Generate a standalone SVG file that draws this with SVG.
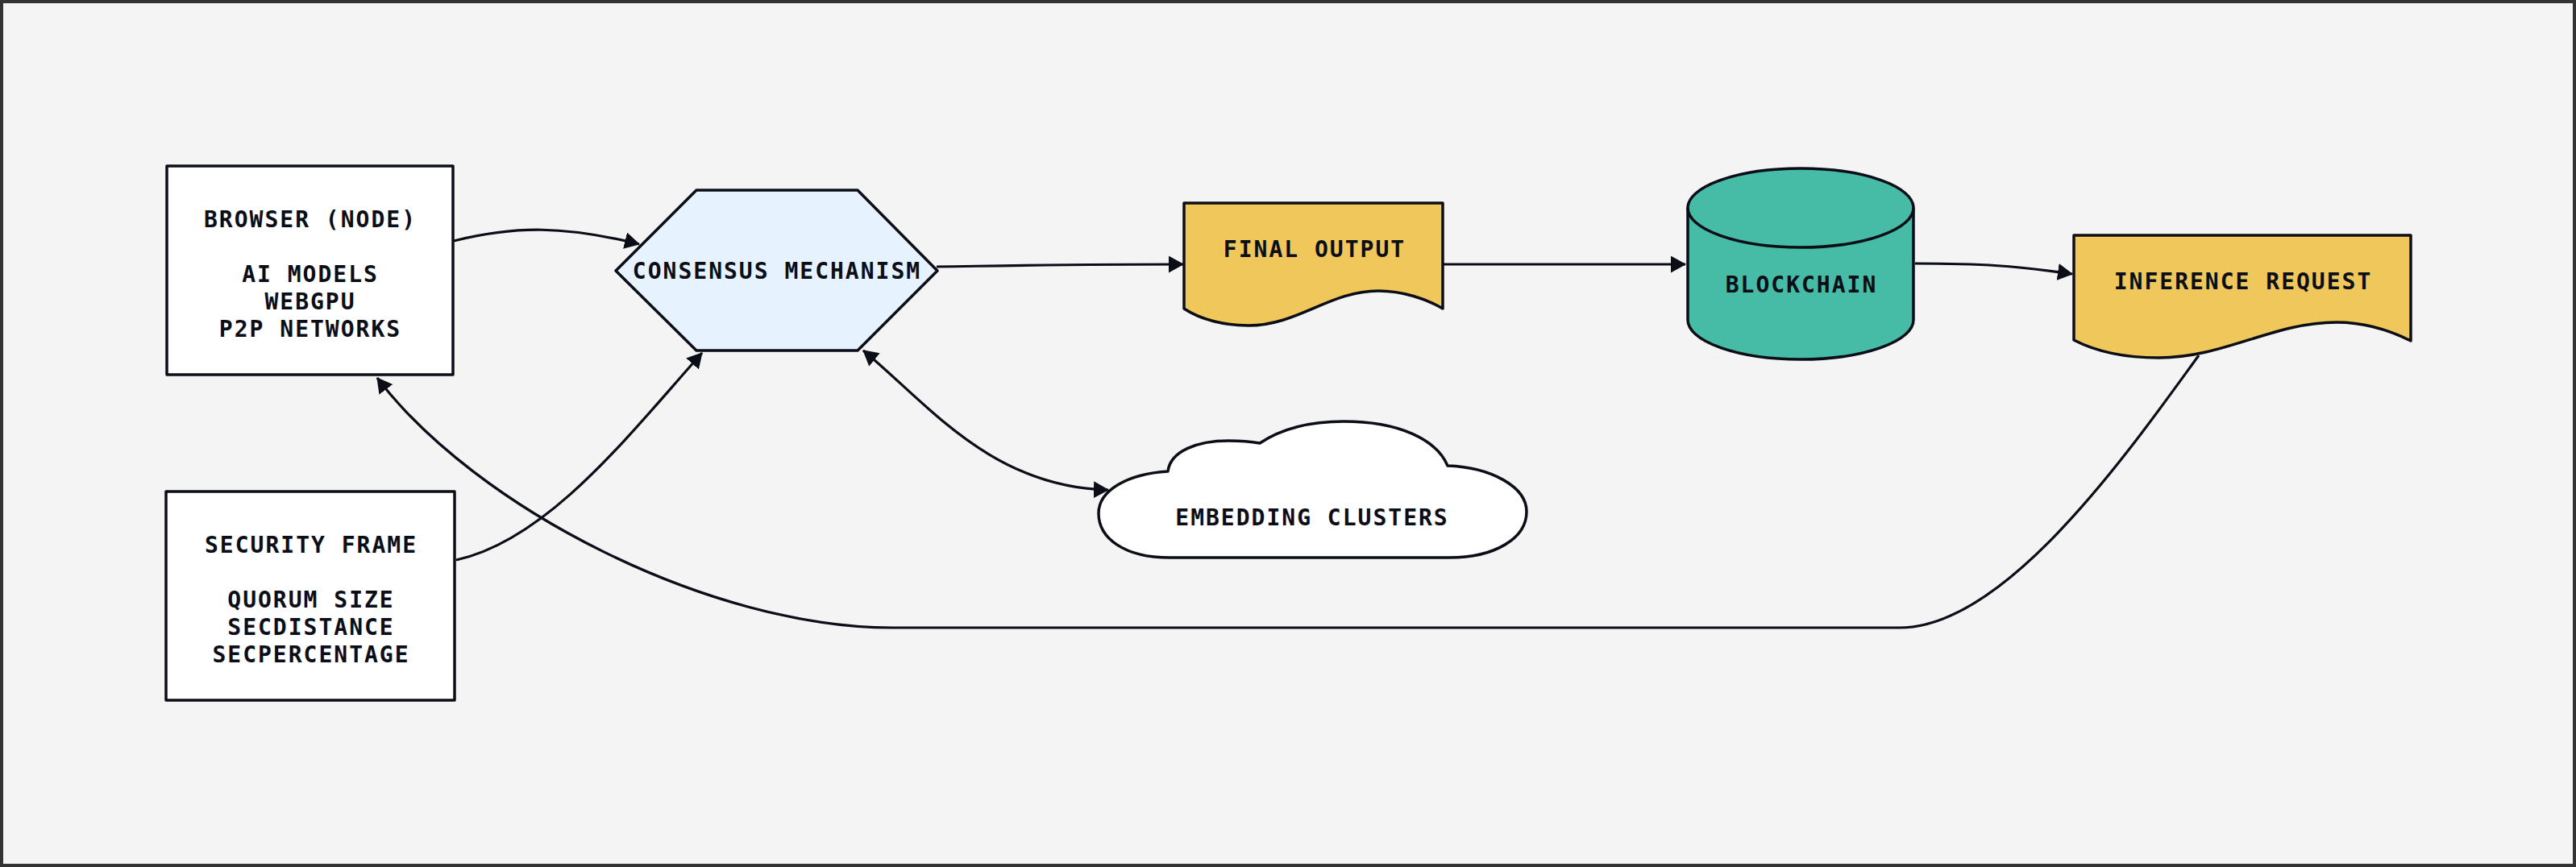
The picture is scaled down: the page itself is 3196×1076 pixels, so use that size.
<svg xmlns="http://www.w3.org/2000/svg" width="3196" height="1076" viewBox="0 0 3196 1076">
  <style>
    .node { stroke: #0b0d17; stroke-width: 3.5; stroke-linejoin: round; }
    .lbl { font-family: "DejaVu Sans Mono", "Liberation Mono", monospace; font-weight: bold; font-size: 28px; letter-spacing: 2px; fill: #0b0d17; text-anchor: middle; }
    .edge { fill: none; stroke: #0b0d17; stroke-width: 3.2; }
  </style>
  <defs>
    <marker id="arrowEnd" markerUnits="userSpaceOnUse" markerWidth="20" markerHeight="22" refX="18" refY="10.5" orient="auto">
      <path d="M0,0 L19,10.5 L0,21 Z" fill="#0b0d17"/>
    </marker>
    <marker id="arrowStart" markerUnits="userSpaceOnUse" markerWidth="20" markerHeight="22" refX="1" refY="10.5" orient="auto">
      <path d="M19,0 L0,10.5 L19,21 Z" fill="#0b0d17"/>
    </marker>
  </defs>

  <rect x="2" y="2" width="3192" height="1072" fill="#f4f4f4" stroke="#333333" stroke-width="4"/>

  <g id="connectors">
    <path class="edge" d="M563,299 C640,280 700,280 793,303" marker-end="url(#arrowEnd)"/>
    <path class="edge" d="M566,695 C680,670 780,540 871,438" marker-end="url(#arrowEnd)"/>
    <path class="edge" d="M1071,435 C1150,500 1230,605 1375,608" marker-start="url(#arrowStart)" marker-end="url(#arrowEnd)"/>
    <path class="edge" d="M1162,331 C1300,329 1350,328 1468,328" marker-end="url(#arrowEnd)"/>
    <path class="edge" d="M1790,328 L2091,328" marker-end="url(#arrowEnd)"/>
    <path class="edge" d="M2376,327 C2460,327 2500,330 2571,340" marker-end="url(#arrowEnd)"/>
    <path class="edge" d="M2728,441 C2645,555 2490,779 2357,779 L1107,779 C880,779 590,630 468,469" marker-end="url(#arrowEnd)"/>
  </g>

  <g id="browser">
    <rect class="node" x="207" y="206" width="355" height="259" fill="#ffffff"/>
    <text class="lbl" x="385" y="282">BROWSER (NODE)<tspan x="385" y="350">AI MODELS</tspan><tspan x="385" y="384">WEBGPU</tspan><tspan x="385" y="418">P2P NETWORKS</tspan></text>
  </g>

  <g id="security">
    <rect class="node" x="206" y="610" width="358" height="259" fill="#ffffff"/>
    <text class="lbl" x="386" y="686">SECURITY FRAME<tspan x="386" y="754">QUORUM SIZE</tspan><tspan x="386" y="788">SECDISTANCE</tspan><tspan x="386" y="822">SECPERCENTAGE</tspan></text>
  </g>

  <g id="consensus">
    <polygon class="node" points="864,236 1064,236 1163,336 1064,435 864,435 764,336" fill="#e6f2fd"/>
    <text class="lbl" x="964" y="346">CONSENSUS MECHANISM</text>
  </g>

  <g id="final-output">
    <path class="node" d="M1469,252 H1790 V383 C1770,371 1740,361 1710,361 C1650,361 1610,404 1549,404 C1520,404 1490,397 1469,383 Z" fill="#f0c75a"/>
    <text class="lbl" x="1631" y="319">FINAL OUTPUT</text>
  </g>

  <g id="blockchain">
    <path class="node" d="M2094,258 A140,49 0 0 1 2374,258 L2374,397 A140,49 0 0 1 2094,397 Z" fill="#46bba6"/>
    <path class="node" d="M2094,258 A140,49 0 0 0 2374,258" fill="none"/>
    <text class="lbl" x="2235" y="363">BLOCKCHAIN</text>
  </g>

  <g id="inference-request">
    <path class="node" d="M2573,292 H2991 V423 C2965,410 2935,400 2899,400 C2820,400 2760,444 2678,444 C2635,444 2600,436 2573,422 Z" fill="#f0c75a"/>
    <text class="lbl" x="2783" y="359">INFERENCE REQUEST</text>
  </g>

  <g id="embedding-clusters">
    <path class="node" d="M1451,692 C1395,692 1363,668 1363,637 C1363,608 1400,588 1449,585 C1452,560 1485,547 1524,547 C1540,547 1552,548 1563,550 C1590,532 1625,523 1667,523 C1735,523 1782,545 1796,578 C1850,580 1894,604 1894,635 C1894,668 1855,692 1798,692 Z" fill="#ffffff"/>
    <text class="lbl" x="1628" y="652">EMBEDDING CLUSTERS</text>
  </g>
</svg>
